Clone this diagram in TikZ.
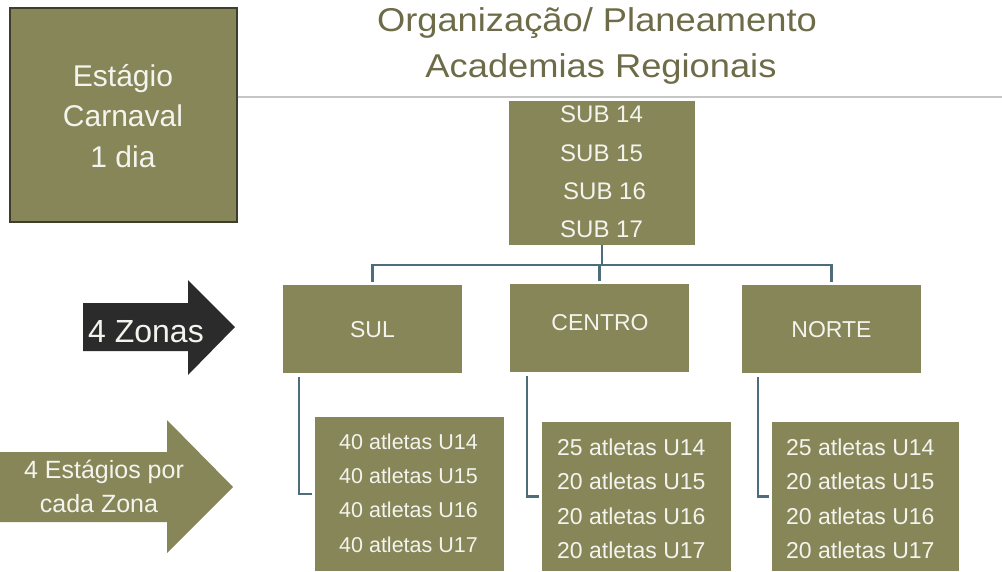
\documentclass[tikz,border=0pt]{standalone}
\usepackage{fontspec}
\setmainfont{Liberation Sans}
\newfontfamily\titlefont[FakeStretch=1.1]{Liberation Sans}
\newcommand{\myfs}[1]{\fontsize{#1}{#1}\selectfont}
\definecolor{boxolive}{HTML}{878659}
\definecolor{boxtxt}{HTML}{F4F4EE}
\definecolor{titlec}{HTML}{6E6C48}
\definecolor{connc}{HTML}{4D6D7B}
\definecolor{arrowdark}{HTML}{2B2B2B}
\definecolor{estborder}{HTML}{3E3E2C}
\definecolor{grayline}{HTML}{C6C6C6}
\begin{document}
\begin{tikzpicture}[x=1pt,y=-1pt,
  box/.style={fill=boxolive, draw=none, inner sep=0pt, anchor=north west},
  lbl/.style={text=boxtxt, inner sep=0pt, anchor=base},
  lblw/.style={text=boxtxt, inner sep=0pt, anchor=base west},
  conn/.style={draw=connc, line width=2.5pt}]
\useasboundingbox (0,0) rectangle (1002,571);

% left box
\node[box, draw=estborder, line width=1.5pt, minimum width=227pt, minimum height=214pt] (est) at (9,7) {};
\node[lbl, font={\myfs{30}}] (est1) at (123,86) {Estágio};
\node[lbl, font={\myfs{30}}] (est2) at (123,126) {Carnaval};
\node[lbl, font={\myfs{30}}] (est3) at (123,167) {1 dia};

% title
\node[lbl, text=titlec, font={\titlefont\myfs{33}}] (t1) at (597,31) {Organização/ Planeamento};
\node[lbl, text=titlec, font={\titlefont\myfs{33}}] (t2) at (601,77) {Academias Regionais};
\draw[draw=grayline, line width=1.5pt] (est.east |- 0,97) coordinate (gl) -- (1002,97) coordinate (gr);

% SUB box
\node[box, minimum width=186pt, minimum height=144pt] (sub) at (509,101) {};
\node[lblw, font={\myfs{24}}] (s14) at (560,122) {SUB 14};
\node[lblw, font={\myfs{24}}] (s15) at (560,161) {SUB 15};
\node[lblw, font={\myfs{24}}] (s16) at (563,199) {SUB 16};
\node[lblw, font={\myfs{24}}] (s17) at (560,237) {SUB 17};

% zone boxes
\node[box, minimum width=179pt, minimum height=88pt] (sul) at (283,285) {};
\node[box, minimum width=179pt, minimum height=88pt] (cen) at (510,284) {};
\node[box, minimum width=179pt, minimum height=88pt] (nor) at (742,285) {};
\node[lbl, font={\myfs{23}}] (sult) at (372.5,337) {SUL};
\node[lbl, font={\myfs{23}}] (cent) at (600,330) {CENTRO};
\node[lbl, font={\myfs{23}}] (nort) at (831.5,337) {NORTE};

% tree connectors
\coordinate (bus) at (0,265);
\draw[conn] (sub.south) -- (sub.south |- bus);
\draw[conn] ([yshift=3pt]sul.north) -- (sul.north |- bus) -- (nor.north |- bus) -- ([yshift=3pt]nor.north);
\draw[conn] ([yshift=3pt]cen.north) -- (cen.north |- bus);

% lower boxes
\node[box, minimum width=189pt, minimum height=154pt] (sulB) at (315,417) {};
\node[box, minimum width=189pt, minimum height=149pt] (cenB) at (542,422) {};
\node[box, minimum width=187pt, minimum height=149pt] (norB) at (772,422) {};

\node[lblw, font={\myfs{21.5}}] (sa1) at (339,449) {40 atletas U14};
\node[lblw, font={\myfs{21.5}}] (sa2) at (339,483) {40 atletas U15};
\node[lblw, font={\myfs{21.5}}] (sa3) at (339,517) {40 atletas U16};
\node[lblw, font={\myfs{21.5}}] (sa4) at (339,552) {40 atletas U17};

\node[lblw, font={\myfs{23}}] (ca1) at (557,455) {25 atletas U14};
\node[lblw, font={\myfs{23}}] (ca2) at (557,489) {20 atletas U15};
\node[lblw, font={\myfs{23}}] (ca3) at (557,524) {20 atletas U16};
\node[lblw, font={\myfs{23}}] (ca4) at (557,558) {20 atletas U17};

\node[lblw, font={\myfs{23}}] (na1) at (786,455) {25 atletas U14};
\node[lblw, font={\myfs{23}}] (na2) at (786,489) {20 atletas U15};
\node[lblw, font={\myfs{23}}] (na3) at (786,524) {20 atletas U16};
\node[lblw, font={\myfs{23}}] (na4) at (786,558) {20 atletas U17};

\draw[conn] ([xshift=16pt,yshift=-4pt]sul.south west) |- ([xshift=-3pt]sulB.west);
\draw[conn] ([xshift=17pt,yshift=-4pt]cen.south west) |- ([xshift=-3pt]cenB.west);
\draw[conn] ([xshift=16pt,yshift=-4pt]nor.south west) |- ([xshift=-3pt]norB.west);

% arrows
\fill[arrowdark] (83,303) -- (188,303) -- (188,280) -- (235,327) -- (188,375) -- (188,351) -- (83,351) -- cycle;
\node[lbl, font={\myfs{32}}] (zonas) at (146,342) {4 Zonas};
\fill[boxolive] (0,452) -- (167,452) -- (167,420) -- (233,487) -- (167,553) -- (167,522) -- (0,522) -- cycle;
\node[lbl, font={\myfs{25}}] (e4a) at (104,478) {4 Estágios por};
\node[lbl, font={\myfs{25}}] (e4b) at (99,512) {cada Zona};
\end{tikzpicture}
\end{document}
